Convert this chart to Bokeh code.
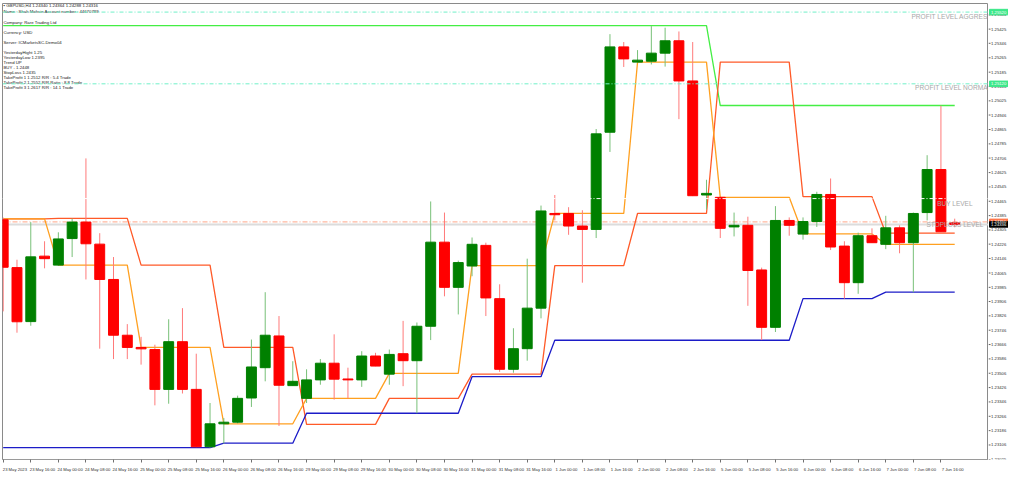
import numpy as np
from bokeh.plotting import figure
from bokeh.layouts import row
from bokeh.models import Range1d, FixedTicker, ColumnDataSource, Span
from bokeh.embed import file_html
from bokeh.resources import INLINE
from bokeh.core.properties import value

# ---------------- data (GBPUSD H4) ----------------
opens = [1.24362, 1.24095, 1.23794, 1.24159, 1.24109, 1.24257, 1.24349, 1.24226, 1.24029, 1.23718,
         1.23650, 1.23638, 1.23416, 1.23682, 1.23416, 1.23096, 1.23224, 1.23233, 1.23368, 1.23537,
         1.23714, 1.23437, 1.23366, 1.23469, 1.23562, 1.23474, 1.23469, 1.23602, 1.23501, 1.23615,
         1.23576, 1.23768, 1.24237, 1.23985, 1.24104, 1.24219, 1.23922, 1.23528, 1.23643, 1.23869,
         1.24397, 1.24397, 1.24327, 1.24308, 1.24850, 1.25326, 1.25241, 1.25246, 1.25291, 1.25360,
         1.25136, 1.24500, 1.24487, 1.24322, 1.24331, 1.24082, 1.23762, 1.24358, 1.24282, 1.24352,
         1.24503, 1.24215, 1.24011, 1.24273, 1.24225, 1.24317, 1.24234, 1.24402, 1.24642, 1.24345]
highs = [1.24374, 1.24139, 1.24349, 1.24242, 1.24292, 1.24368, 1.24704, 1.24287, 1.24154, 1.23780,
         1.23709, 1.23665, 1.23807, 1.23869, 1.23615, 1.23340, 1.23256, 1.23381, 1.23694, 1.23958,
         1.23825, 1.23573, 1.23528, 1.23585, 1.23723, 1.23537, 1.23629, 1.23620, 1.23638, 1.23798,
         1.23789, 1.24464, 1.24402, 1.24134, 1.24263, 1.24234, 1.24002, 1.23757, 1.24145, 1.24441,
         1.24500, 1.24432, 1.24415, 1.24868, 1.25397, 1.25353, 1.25308, 1.25442, 1.25433, 1.25412,
         1.25353, 1.24585, 1.24491, 1.24402, 1.24379, 1.24095, 1.24438, 1.24375, 1.24375, 1.24518,
         1.24592, 1.24242, 1.24290, 1.24314, 1.24384, 1.24331, 1.24402, 1.24722, 1.24998, 1.24368]
lows = [1.23851, 1.23732, 1.23771, 1.24091, 1.24105, 1.24154, 1.24029, 1.23643, 1.23585, 1.23585,
        1.23554, 1.23327, 1.23336, 1.23393, 1.23094, 1.23091, 1.23114, 1.23226, 1.23318, 1.23461,
        1.23212, 1.23435, 1.23340, 1.23442, 1.23359, 1.23366, 1.23430, 1.23545, 1.23442, 1.23434,
        1.23283, 1.23691, 1.23935, 1.23834, 1.24047, 1.23825, 1.23514, 1.23509, 1.23576, 1.23812,
        1.24358, 1.24278, 1.24011, 1.24260, 1.24740, 1.25214, 1.25237, 1.25228, 1.25216, 1.24923,
        1.24494, 1.24420, 1.24260, 1.24269, 1.23882, 1.23691, 1.23736, 1.24273, 1.24251, 1.24322,
        1.24193, 1.23922, 1.23949, 1.24233, 1.24198, 1.24175, 1.23958, 1.24358, 1.24294, 1.24320]
closes = [1.24097, 1.23793, 1.24155, 1.24145, 1.24255, 1.24349, 1.24228, 1.24029, 1.23718, 1.23650,
          1.23642, 1.23416, 1.23682, 1.23416, 1.23096, 1.23224, 1.23233, 1.23366, 1.23541, 1.23718,
          1.23439, 1.23461, 1.23469, 1.23562, 1.23473, 1.23469, 1.23602, 1.23546, 1.23611, 1.23576,
          1.23768, 1.24237, 1.23985, 1.24123, 1.24225, 1.23926, 1.23528, 1.23643, 1.23869, 1.24411,
          1.24390, 1.24327, 1.24308, 1.24841, 1.25326, 1.25259, 1.25252, 1.25291, 1.25360, 1.25136,
          1.24496, 1.24509, 1.24314, 1.24331, 1.24079, 1.23762, 1.24358, 1.24331, 1.24352, 1.24503,
          1.24210, 1.24011, 1.24273, 1.24234, 1.24317, 1.24234, 1.24397, 1.24642, 1.24295, 1.24336]

# trading days and their number of H4 bars
day_bars = [4, 6, 6, 6, 6, 6, 6, 6, 6, 6, 6, 6]
green_level = [1.25445] * 9 + [1.24999] * 3
orange_level = [1.24367, 1.24109, 1.23650, 1.23224, 1.23366, 1.23505,
                1.24106, 1.24397, 1.25241, 1.24487, 1.24283, 1.24225]
orangered_level = [1.24367, 1.24370, 1.24109, 1.23650, 1.23221, 1.23366,
                   1.23501, 1.24106, 1.24397, 1.25241, 1.24491, 1.24287]
blue_level = [1.23091, 1.23091, 1.23091, 1.23116, 1.23283, 1.23283,
              1.23487, 1.23690, 1.23690, 1.23690, 1.23922, 1.23958]

tp_aggressive = 1.2552
tp_normal = 1.2512
buy_level = 1.2448
stoploss_level = 1.2435
bid = 1.24336

x_tick_labels = ["23 May 2023", "23 May 16:00", "24 May 00:00", "24 May 08:00", "24 May 16:00",
                 "25 May 00:00", "25 May 08:00", "25 May 16:00", "26 May 00:00", "26 May 08:00",
                 "26 May 16:00", "29 May 00:00", "29 May 08:00", "29 May 16:00", "30 May 00:00",
                 "30 May 08:00", "30 May 16:00", "31 May 00:00", "31 May 08:00", "31 May 16:00",
                 "1 Jun 00:00", "1 Jun 08:00", "1 Jun 16:00", "2 Jun 00:00", "2 Jun 08:00",
                 "2 Jun 16:00", "5 Jun 00:00", "5 Jun 08:00", "5 Jun 16:00", "6 Jun 00:00",
                 "6 Jun 08:00", "6 Jun 16:00", "7 Jun 00:00", "7 Jun 08:00", "7 Jun 16:00"]
y_ticks = [1.23025, 1.23106, 1.23186, 1.23266, 1.23346, 1.23426, 1.23506, 1.23586, 1.23666,
           1.23746, 1.23826, 1.23906, 1.23985, 1.24065, 1.24146, 1.24226, 1.24305, 1.24385,
           1.24465, 1.24545, 1.24625, 1.24706, 1.24785, 1.24865, 1.24946, 1.25025, 1.25106,
           1.25185, 1.25265, 1.25346, 1.25425, 1.25504]

header_lines = ["\u25aa GBPUSD,H4  1.24340 1.24364 1.24288 1.24316",
                "Name : Shah Mohsin Account number : 44670789",
                "Company: Rare Trading Ltd",
                "Currency: USD",
                "Server: ICMarketsSC-Demo04",
                "YesterdayHight 1.25",
                "YesterdayLow 1.2395",
                "Trend   UP",
                "BUY - 1.2448",
                "StopLoss 1.2435",
                "TakeProfit 1 1.2512 R/R : 5.4  Trade",
                "TakeProfit 2 1.2552 R/R Ratio : 8.8 Trade",
                "TakeProfit 3 1.2617 R/R : 14.1 Trade"]

# ---------------- layout helpers (reference pixel -> data) ----------------
def rx(px):
    return (px - 2.7) / 14.0

def ry(py):
    return 1.23025 + (480.0 - py) * 0.00005331

FONT_NAME = "Liberation Sans"
FONT = value(FONT_NAME)
BORDER_B = 12

p = figure(width=988, height=474, output_backend="svg", toolbar_location=None,
           x_range=Range1d(rx(2), rx(1003)), y_range=Range1d(ry(480), ry(3)),
           y_axis_location=None, min_border_left=2, min_border_top=3,
           min_border_right=0, min_border_bottom=BORDER_B)
p.grid.visible = False
p.background_fill_color = "white"
p.border_fill_color = "white"
p.outline_line_color = "#8a8a8a"
p.outline_line_width = 1

n = len(opens)
xs = np.arange(n)
o = np.array(opens); c = np.array(closes); h = np.array(highs); l = np.array(lows)
up = c >= o
body_col = np.where(up, "#008000", "#ff0000")
wick_col = np.where(up, "#78c078", "#ff7a7a")
src = ColumnDataSource(dict(x=xs, h=h, l=l, top=np.maximum(o, c), bot=np.minimum(o, c),
                            bc=body_col, wc=wick_col))

# horizontal levels
p.add_layout(Span(location=tp_aggressive, dimension="width", line_color="#70f0c8",
                  line_width=1, line_dash="4 2 1 2"))
p.add_layout(Span(location=tp_normal, dimension="width", line_color="#70f0c8",
                  line_width=1, line_dash="4 2 1 2"))
p.add_layout(Span(location=bid, dimension="width", line_color="#dcdcdc", line_width=2,
                  level="underlay"))
p.add_layout(Span(location=stoploss_level, dimension="width", line_color="#ffb8a0",
                  line_width=1.2, line_dash="5 2 1 2", level="underlay"))

# indicator lines
def expand(vals):
    return np.repeat(np.array(vals), day_bars)

p.line(xs, expand(green_level), line_color="#44ee44", line_width=1.3)
p.line(xs, expand(orangered_level), line_color="#ff5a28", line_width=1.3)
p.line(xs, expand(orange_level), line_color="#ffa020", line_width=1.3)
p.line(xs, expand(blue_level), line_color="#1c1cc8", line_width=1.3)

# candles
p.segment("x", "h", "x", "l", source=src, line_color="wc", line_width=1)
p.vbar(x="x", width=0.72, top="top", bottom="bot", source=src, fill_color="bc", line_color="bc",
       line_width=1)

# buy level (white dash-dot, visible over candles)
p.add_layout(Span(location=buy_level, dimension="width", line_color="white",
                  line_width=1, line_dash="4 2 1 2"))

# level texts (the two profit labels run into the price scale, as on the reference)
p.text(x=[rx(1002.5), rx(1002.5)], y=[ry(12.5), ry(87.5)],
       text=["PROFIT LEVEL AGGRES", "PROFIT LEVEL NORMA"], text_font=FONT,
       text_font_size="6.6px", text_color="#a8a8a8", text_baseline="top", text_align="right")
p.text(x=[rx(951), rx(940)], y=[ry(208.5), ry(231)],
       text=["BUY LEVEL", "STOPLOSS LEVEL"], text_font=FONT,
       text_font_size="6.5px", text_color="#a8a8a8", text_baseline="top", text_align="left")

# header block
hy = [5.5, 11.5, 22.5, 33, 43.5, 54, 59, 64.3, 69.5, 75, 80.3, 85.5, 90.7]
hdr = ColumnDataSource(dict(x=[rx(3)] * len(header_lines), y=[ry(v) for v in hy],
                            t=header_lines))
p.text("x", "y", text="t", source=hdr, text_font=FONT, text_font_size="4.3px",
       text_color="#202020", text_baseline="middle", text_align="left")

# time axis
xa = p.xaxis[0]
tick_idx = list(range(0, n, 2))[:len(x_tick_labels)]
major = [i + 0.85 for i in tick_idx]
xa.ticker = FixedTicker(ticks=major, minor_ticks=tick_idx)
xa.major_label_overrides = {m: lab for m, lab in zip(major, x_tick_labels)}
xa.major_tick_line_color = None
xa.minor_tick_out = 3
xa.minor_tick_in = 0
xa.minor_tick_line_color = "#707070"
xa.major_label_text_font = FONT_NAME
xa.major_label_text_font_size = "4.2px"
xa.major_label_text_color = "#303030"
xa.major_label_standoff = 1
xa.axis_line_color = "#9a9a9a"

# ---------------- price scale (right strip sharing the price range) ----------------
ps = figure(width=20, height=474, output_backend="svg", toolbar_location=None,
            x_range=Range1d(0, 20), y_range=p.y_range, x_axis_location=None,
            y_axis_location=None, min_border_left=0, min_border_right=0,
            min_border_top=3, min_border_bottom=BORDER_B)
ps.grid.visible = False
ps.outline_line_color = None
ps.background_fill_color = "white"
ps.border_fill_color = "white"

ps.segment(x0=[0] * len(y_ticks), y0=y_ticks, x1=[2] * len(y_ticks), y1=y_ticks,
           line_color="#606060", line_width=1)
ps.text(x=[2.6] * len(y_ticks), y=y_ticks, text=[f"{t:.5f}" for t in y_ticks],
        text_font=FONT, text_font_size="4.2px", text_color="#303030",
        text_baseline="middle", text_align="left")

box_prices = [tp_aggressive, tp_normal, stoploss_level, bid]
box_texts = [f"{tp_aggressive:.5f}", f"{tp_normal:.5f}", f"{stoploss_level:.5f}", f"{bid:.5f}"]
box_colors = ["#3ce88a", "#3ce88a", "#ff6a3a", "#000000"]
ps.rect(x=[10.5] * 4, y=box_prices, width=19, height=5.5, height_units="screen",
        fill_color=box_colors, line_color=box_colors)
ps.text(x=[2.6] * 4, y=box_prices, text=box_texts, text_font=FONT, text_font_size="4.2px",
        text_color="white", text_baseline="middle", text_align="left")

layout = row(p, ps, spacing=0)
open("out.html", "w").write(file_html(layout, INLINE))
